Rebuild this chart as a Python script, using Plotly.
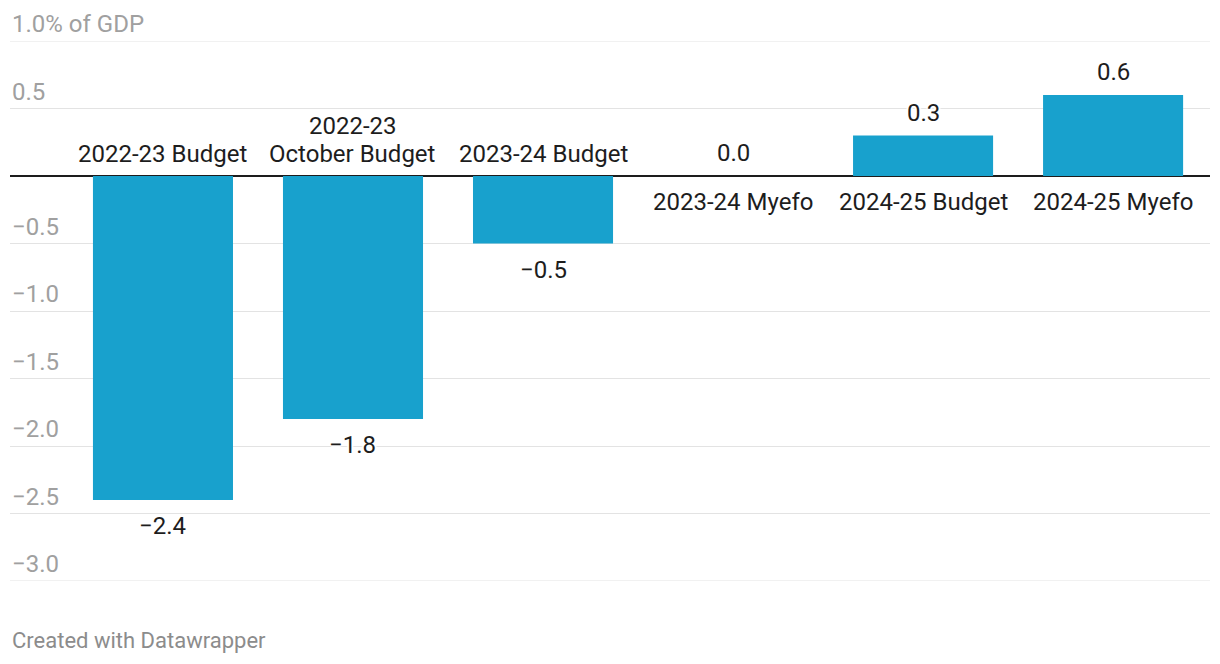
import plotly.graph_objects as go

categories = ["2022-23 Budget", "2022-23<br>October Budget", "2023-24 Budget",
              "2023-24 Myefo", "2024-25 Budget", "2024-25 Myefo"]
values = [-2.4, -1.8, -0.5, 0.0, 0.3, 0.6]
value_labels = ["−2.4", "−1.8", "−0.5", "0.0", "0.3", "0.6"]
tick_vals = [1.0, 0.5, 0.0, -0.5, -1.0, -1.5, -2.0, -2.5, -3.0]
tick_texts = ["1.0% of GDP", "0.5", "", "−0.5", "−1.0", "−1.5", "−2.0", "−2.5", "−3.0"]

BAR = "#18a1cd"
FONT = "Roboto"
LINE_H = 28
x_idx = list(range(len(categories)))

fig = go.Figure()
fig.add_trace(go.Bar(x=x_idx, y=values, marker_color=BAR, marker_line_width=0,
                     width=0.737, hoverinfo="skip"))

halo = "2px 0px 1px white, -2px 0px 1px white, 0px 2px 1px white, 0px -2px 1px white"
ann = []
for i, (v, t, c) in enumerate(zip(values, value_labels, categories)):
    neg = v < 0
    ann.append(dict(x=i, y=v, xref="x", yref="y", text=t, showarrow=False,
                    yanchor="top" if neg else "bottom",
                    yshift=-10 if neg else 7,
                    font=dict(family=FONT, size=24, color="#1d1d1d", shadow=halo)))
    lines = c.split("<br>")
    n = len(lines)
    for k, ln in enumerate(lines):
        if neg:
            shift = 6 + (n - 1 - k) * LINE_H
        else:
            shift = -10 - k * LINE_H
        ann.append(dict(x=i, y=0, xref="x", yref="y", text=ln, showarrow=False,
                        yanchor="bottom" if neg else "top", yshift=shift,
                        font=dict(family=FONT, size=24, color="#1d1d1d")))
for tv, tt in zip(tick_vals, tick_texts):
    if tt:
        ann.append(dict(x=0, y=tv, xref="paper", yref="y", text=tt, showarrow=False,
                        xanchor="left", yanchor="bottom", yshift=1,
                        font=dict(family=FONT, size=24, color="#a0a0a0")))
ann.append(dict(x=0, y=-0.11, xref="paper", yref="paper", text="Created with Datawrapper",
                showarrow=False, xanchor="left", yanchor="middle",
                font=dict(family=FONT, size=22, color="#8c8c8c")))

fig.update_layout(
    width=1212, height=656,
    margin=dict(l=2, r=10, t=33, b=83),
    paper_bgcolor="white", plot_bgcolor="white",
    showlegend=False,
    annotations=ann,
    xaxis=dict(range=[-0.805, 5.51], showticklabels=False, showgrid=False,
               zeroline=False, fixedrange=True),
    yaxis=dict(range=[-3.0, 1.0], tickvals=tick_vals, showticklabels=False,
               showgrid=True, gridcolor="#e3e3e3", gridwidth=1,
               zeroline=True, zerolinecolor="#1d1d1d", zerolinewidth=2,
               fixedrange=True),
)
fig.add_hline(y=1.0, line=dict(color="#e3e3e3", width=1))
fig.add_hline(y=-3.0, line=dict(color="#e3e3e3", width=1))
fig.write_html("out.html")
